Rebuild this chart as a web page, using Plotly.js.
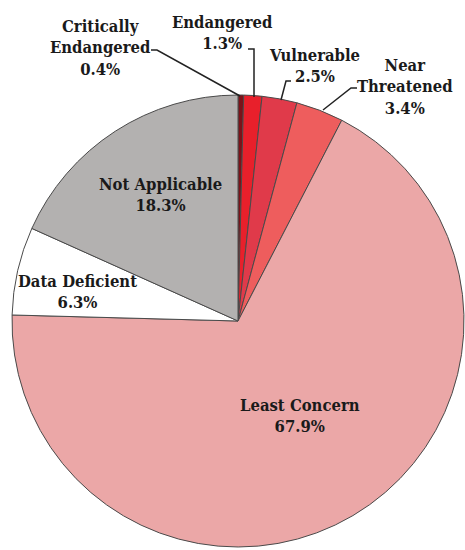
<!DOCTYPE html>
<html>
<head>
<meta charset="utf-8">
<script src="https://cdn.plot.ly/plotly-3.0.1.min.js"></script>
<style>html,body{margin:0;padding:0;background:#fff;}#chart{width:465px;height:550px;}</style>
</head>
<body>
<div id="chart"></div>
<script>
// Data
var categories = ["Critically<br>Endangered", "Endangered", "Vulnerable", "Near<br>Threatened", "Least Concern", "Data Deficient", "Not Applicable"];
var percents = [0.4, 1.3, 2.5, 3.4, 67.9, 6.3, 18.3];
var sliceColors = ["#7c1219", "#e8202b", "#e03a4a", "#ee5d5d", "#eba7a7", "#ffffff", "#b3b1b0"];

var W = 465, H = 550;
function px(x){ return x / W; }
function py(y){ return 1 - y / H; }

// label anchor positions (pixels) for each category
var labelPos = [[100,48],[222,33],[314,66],[405,87],[300,416],[77,292],[160,195]];
// leader lines for outside labels (pixels)
var leaders = [
  [[151,50],[157,50],[240,96]],
  [[248,49],[254,49],[254,97]],
  [[291,81],[286,81],[281,100]],
  [[357,88],[351,88],[323,110]]
];

var annotations = categories.map(function(c, i){
  return {
    x: px(labelPos[i][0]), y: py(labelPos[i][1]), xref: 'paper', yref: 'paper',
    xanchor: 'center', yanchor: 'middle', showarrow: false,
    text: '<b>' + c + '<br>' + percents[i].toFixed(1) + '%</b>',
    font: {family: 'DejaVu Serif Condensed, DejaVu Serif', size: 16.5, color: '#1a1a1a'}
  };
});

var shapes = leaders.map(function(pts){
  var d = pts.map(function(p, k){ return (k === 0 ? 'M ' : ' L ') + px(p[0]) + ',' + py(p[1]); }).join('');
  return {type: 'path', xref: 'paper', yref: 'paper', path: d, line: {color: '#222222', width: 1.5}};
});

var cx = 238, cy = 321, r = 226;
var trace = {
  type: 'pie',
  labels: categories,
  values: percents,
  sort: false,
  direction: 'clockwise',
  rotation: 0,
  textinfo: 'none',
  hoverinfo: 'none',
  marker: {colors: sliceColors, line: {color: '#4a4a4a', width: 1}},
  domain: {x: [(cx - r) / W, (cx + r) / W], y: [(H - cy - r) / H, (H - cy + r) / H]}
};

var layout = {
  width: W, height: H,
  margin: {l: 0, r: 0, t: 0, b: 0},
  showlegend: false,
  paper_bgcolor: '#ffffff',
  annotations: annotations,
  shapes: shapes
};

Plotly.newPlot('chart', [trace], layout, {staticPlot: true});
</script>
</body>
</html>
